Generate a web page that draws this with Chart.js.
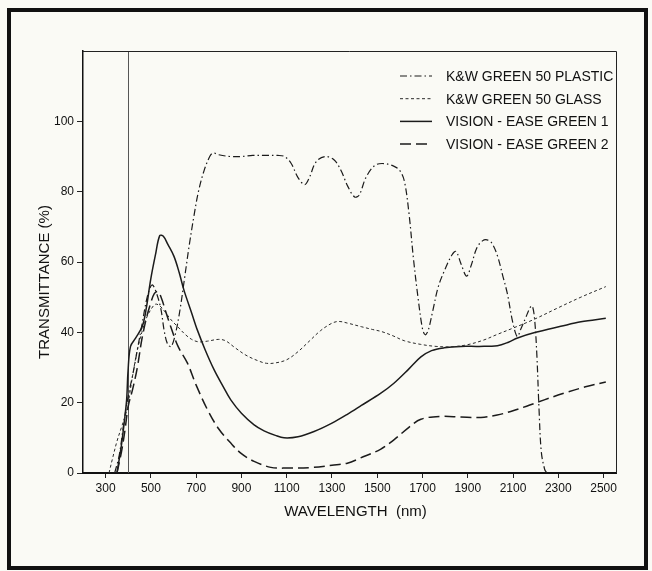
<!DOCTYPE html>
<html><head><meta charset="utf-8">
<script src="https://cdn.jsdelivr.net/npm/chart.js@4/dist/chart.umd.min.js"></script>
<style>
html,body{margin:0;padding:0;background:#fafaf5;}
#wrap{position:relative;width:652px;height:571px;overflow:hidden;}
#frame{position:absolute;left:7px;top:8px;width:641px;height:562px;border:4px solid #111;box-sizing:border-box;pointer-events:none;}
canvas{position:absolute;left:0;top:0;}
</style></head><body>
<div id="wrap"><canvas id="c" width="652" height="571"></canvas><div id="frame"></div></div>
<script>
// ---- data (wavelength in nm, transmittance in %) ----
const seriesLabels = ["K&W GREEN 50 PLASTIC", "K&W GREEN 50 GLASS", "VISION - EASE GREEN 1", "VISION - EASE GREEN 2"];
const xTicks = [300,500,700,900,1100,1300,1500,1700,1900,2100,2300,2500];
const yTicks = [0,20,40,60,80,100];
const markerWavelength = 400;

const plasticNm = [340,360,380,400,420,440,460,480,495,506,520,543,560,575,590,610,630,650,670,690,710,735,760,775,800,850,900,950,1000,1060,1090,1120,1150,1180,1200,1230,1270,1310,1340,1370,1400,1420,1450,1490,1530,1575,1600,1620,1640,1660,1680,1700,1712,1725,1745,1770,1800,1830,1848,1870,1895,1915,1940,1965,1985,2005,2030,2055,2075,2095,2110,2120,2135,2155,2175,2185,2195,2205,2215,2225,2240,2250];
const plasticT  = [0,5,14,22,28,35,42,49,52.5,53.5,52,47,40,36.5,36,40,47,56,65,73,80,86,90,91,90.5,90,90,90.3,90.3,90.3,90,88,84,82,84,88.5,90,89,86,81.5,78.5,79,84,87.5,88,87.2,86,83,74,61,50,41,39.3,40.5,46,53,58,62,63,59.5,56,59,64,66,66.3,65.5,62,56,51,44,40,38.8,41,44,47,47.5,44,34,18,6,1,0];

const glassNm = [315,330,350,370,390,400,420,440,460,480,500,520,540,560,590,620,650,680,710,750,800,830,870,920,970,1010,1050,1100,1150,1200,1250,1300,1330,1370,1430,1480,1520,1570,1620,1690,1760,1830,1900,1970,2030,2100,2190,2300,2400,2510];
const glassT  = [0,4,9,13,17,20,28,35,40,44,46.5,48,47.5,46,43.5,41.5,39.5,38,37.3,37.5,38,37.6,35.7,33.5,32,31.2,31.3,32.2,34.5,37.5,40.5,42.6,43.1,42.6,41.6,40.8,40.2,39,37.6,36.6,36,35.9,36.5,37.8,39.4,41.2,43.6,47,50,53];

const green1Nm = [350,370,385,393,399,410,433,462,480,499,520,539,555,575,602,625,646,680,705,740,779,820,853,900,956,1000,1050,1088,1150,1221,1300,1368,1430,1516,1575,1640,1693,1740,1796,1869,1950,2031,2080,2120,2200,2311,2400,2510];
const green1T  = [0,8,16,21,29,36,38.4,41.7,47,55,62,67.5,67.3,65,61.6,57,52,45.5,40.7,35,29.4,24.5,20.8,17,13.7,12,10.7,10,10.3,11.8,14.2,16.7,19.2,22.7,25.6,29.6,33,34.8,35.6,36,36,36.2,37.2,38.4,40,41.7,43,44];

const green2Nm = [350,370,385,400,420,440,460,480,500,515,530,545,565,587,620,661,700,750,800,853,900,956,1030,1100,1220,1300,1368,1427,1516,1575,1640,1693,1781,1870,1958,2030,2090,2160,2238,2330,2420,2510];
const green2T  = [0,6,12,19,24,30,38,44,48.5,51,51.6,50,46,41.7,36,31.3,25,18,12.5,8.5,5.5,3.3,1.6,1.4,1.6,2.2,2.8,4.3,6.8,9.5,13,15.3,16.1,15.9,15.8,16.5,17.5,19,20.8,22.8,24.5,25.9];

// ---- build ----
const pts = (xs, ys) => xs.map((x, i) => ({x, y: ys[i]}));
const ink = '#1b1b1b';
const FONT = '"Liberation Sans", Arial, sans-serif';

const datasets = [
  {label: seriesLabels[0], data: pts(plasticNm, plasticT), borderColor: ink, borderWidth: 1.2, borderDash: [7,3,1.5,3]},
  {label: seriesLabels[1], data: pts(glassNm, glassT), borderColor: '#2a2a2a', borderWidth: 1, borderDash: [3,2.5]},
  {label: seriesLabels[2], data: pts(green1Nm, green1T), borderColor: ink, borderWidth: 1.5, borderDash: []},
  {label: seriesLabels[3], data: pts(green2Nm, green2T), borderColor: ink, borderWidth: 1.5, borderDash: [11,5]}
].map(d => Object.assign(d, {fill: false, pointRadius: 0, tension: 0.35}));

const decor = {
  id: 'decor',
  beforeDatasetsDraw(chart) {
    const {ctx, chartArea: a, scales: {x}} = chart;
    const px = x.getPixelForValue(markerWavelength);
    ctx.save();
    ctx.strokeStyle = '#555';
    ctx.lineWidth = 1;
    ctx.beginPath(); ctx.moveTo(Math.round(px) + 0.5, a.top); ctx.lineTo(Math.round(px) + 0.5, a.bottom); ctx.stroke();
    ctx.restore();
  },
  afterDraw(chart) {
    const {ctx, chartArea: a} = chart;
    ctx.save();
    ctx.strokeStyle = '#222'; ctx.lineWidth = 1;
    ctx.beginPath();
    ctx.moveTo(a.left, a.top + 0.5); ctx.lineTo(a.right + 0.5, a.top + 0.5); ctx.lineTo(a.right + 0.5, a.bottom);
    ctx.stroke();
    ctx.fillStyle = '#111';
    ctx.font = '14px ' + FONT;
    ctx.textBaseline = 'middle';
    const x0 = a.right - 216, x1 = a.right - 184, tx = a.right - 170;
    chart.data.datasets.forEach((d, i) => {
      const y = a.top + 25 + i * 22.7;
      ctx.strokeStyle = d.borderColor; ctx.lineWidth = d.borderWidth;
      ctx.setLineDash(d.borderDash || []);
      ctx.beginPath(); ctx.moveTo(x0, y); ctx.lineTo(x1, y); ctx.stroke();
      ctx.setLineDash([]);
      ctx.fillText(d.label, tx, y + 1);
    });
    ctx.font = '15px ' + FONT;
    ctx.textAlign = 'center';
    ctx.fillText('WAVELENGTH  (nm)', (a.left + a.right) / 2 + 6, a.bottom + 39);
    ctx.translate(a.left - 38, (a.top + a.bottom) / 2 + 20);
    ctx.rotate(-Math.PI / 2);
    ctx.fillText('TRANSMITTANCE (%)', 0, 0);
    ctx.restore();
  }
};

new Chart(document.getElementById('c'), {
  type: 'line',
  data: {datasets},
  options: {
    responsive: false,
    animation: false,
    devicePixelRatio: 1,
    layout: {padding: {left: 20, right: 36, top: 51, bottom: 0}},
    plugins: {legend: {display: false}, tooltip: {enabled: false}},
    scales: {
      x: {
        type: 'linear', position: 'bottom', min: 200, max: 2555,
        afterFit: s => { s.height = 98; },
        afterBuildTicks: s => { s.ticks = xTicks.map(v => ({value: v})); },
        ticks: {color: '#111', font: {family: FONT, size: 12}, padding: 3, maxRotation: 0, autoSkip: false, callback: v => String(v)},
        grid: {drawOnChartArea: false, drawTicks: true, tickLength: 5, color: '#222', lineWidth: 1},
        border: {color: '#111', width: 2}
      },
      y: {
        type: 'linear', min: 0, max: 120,
        afterFit: s => { s.width = 63; },
        afterBuildTicks: s => { s.ticks = yTicks.map(v => ({value: v})); },
        ticks: {color: '#111', font: {family: FONT, size: 12}, padding: 3, callback: v => String(v)},
        grid: {drawOnChartArea: false, drawTicks: true, tickLength: 6, color: '#222', lineWidth: 1},
        border: {color: '#111', width: 1.5}
      }
    }
  },
  plugins: [decor]
});
</script></body></html>
